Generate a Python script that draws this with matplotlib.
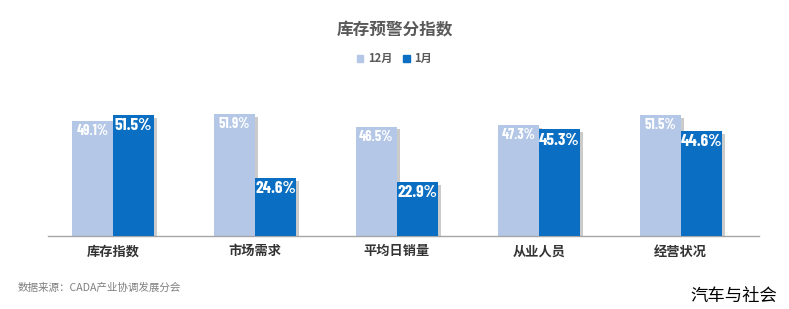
import numpy as np
import matplotlib
matplotlib.use("Agg")
import matplotlib.pyplot as plt
import matplotlib.patheffects as pe

plt.rcParams['font.family'] = ['Noto Sans CJK SC', 'DejaVu Sans']

# data
categories = ['库存指数', '市场需求', '平均日销量', '从业人员', '经营状况']
dec_vals = [49.1, 51.9, 46.5, 47.3, 51.5]
jan_vals = [51.5, 24.6, 22.9, 45.3, 44.6]
series_names = ['12月', '1月']

light = '#B4C7E7'
dark = '#0A6FC2'

fig = plt.figure(figsize=(7.89, 3.09), dpi=100)
ax = fig.add_axes([0.0608, 0.236, 0.901, 0.457])

x = np.arange(len(categories))
w = 0.29
shadow = [pe.SimplePatchShadow(offset=(2, -2), shadow_rgbFace='#999999', alpha=0.5), pe.Normal()]
b1 = ax.bar(x - w / 2, dec_vals, w, color=light, path_effects=shadow, zorder=2)
b2 = ax.bar(x + w / 2, jan_vals, w, color=dark, path_effects=shadow, zorder=3)

# value labels inside the bar tops (condensed bold)
for bars, vals, fs in [(b1, dec_vals, 10.5), (b2, jan_vals, 12.5)]:
    for b, v in zip(bars, vals):
        ax.text(b.get_x() + b.get_width() / 2, v - 1.4, f'{v}%', ha='center', va='top',
                color='white', fontsize=fs, fontweight='bold',
                family=['Barlow Condensed', 'DejaVu Sans'], zorder=4)

ax.set_xlim(-0.458, 4.55)
ax.set_ylim(0, 60)
ax.set_yticks([])
ax.set_xticks(x)
ax.set_xticklabels(categories, fontsize=9.5, fontweight='bold', color='#333333')
ax.tick_params(axis='x', length=0, pad=6)
for s in ['top', 'right', 'left']:
    ax.spines[s].set_visible(False)
ax.spines['bottom'].set_color('#A6A6A6')
ax.spines['bottom'].set_linewidth(1.0)

# title and legend
fig.text(0.5, 0.9, '库存预警分指数', ha='center', va='center', fontsize=12,
         fontweight='bold', color='#595959')
handles = [plt.Rectangle((0, 0), 1, 1, color=light), plt.Rectangle((0, 0), 1, 1, color=dark)]
fig.legend(handles, series_names, loc='center', bbox_to_anchor=(0.5, 0.81), ncol=2,
           frameon=False, handlelength=0.6, handleheight=0.6,
           handletextpad=0.4, columnspacing=1.0, labelcolor='#595959',
           prop={'weight': 'bold', 'size': 8})

fig.text(0.022, 0.068, '数据来源：CADA产业协调发展分会', ha='left', va='center',
         fontsize=7.6, color='#7F7F7F')
fig.text(0.985, 0.042, '汽车与社会', ha='right', va='center', fontsize=12.5, color='black')

fig.savefig('out.png', dpi=100, facecolor='white')
